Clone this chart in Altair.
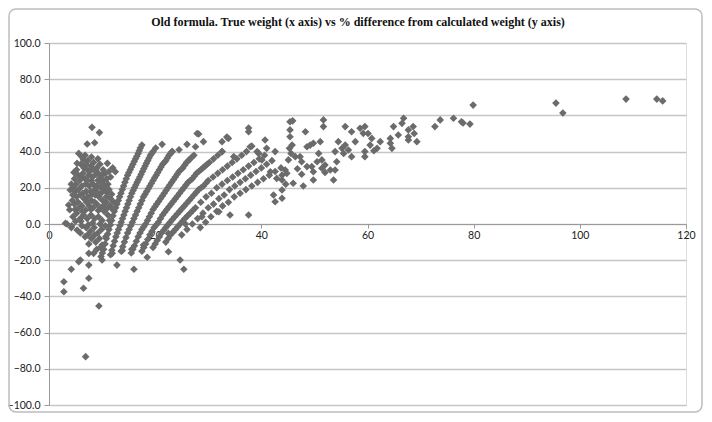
import altair as alt
import pandas as pd

title_text = "Old formula. True weight (x axis) vs % difference from calculated weight (y axis)"
x_ticks = [0, 20, 40, 60, 80, 100, 120]
y_ticks = [-100, -80, -60, -40, -20, 0, 20, 40, 60, 80, 100]

# left dense cluster (small fish)
cluster_top = [(8.1, 53.4), (9.5, 50.5), (7.2, 44.2), (8.6, 44.9), (11.0, 33.5), (5.6, 39), (6.2, 37),
               (6.8, 38), (7.3, 35), (6.0, 33), (6.6, 31), (7.2, 30), (7.9, 32), (8.4, 34), (9.0, 31),
               (9.6, 33), (10.2, 30), (10.6, 28), (12.5, 28.9), (11.6, 26), (5.2, 30), (5.5, 27),
               (4.8, 25), (6.1, 26), (6.8, 25), (7.5, 27), (8.2, 26), (8.9, 27.5), (9.6, 25),
               (10.3, 24), (11.1, 22), (9.2, 24), (8.0, 24), (5.3, 33.5), (4.7, 28.5), (6.5, 35.5),
               (12.0, 31), (11.3, 29), (9.2, 36), (8.0, 37), (5.8, 24), (6.4, 28), (7.0, 33),
               (7.7, 29), (8.5, 30), (9.3, 28), (10.0, 27), (10.9, 25)]
cluster_mid = [(4.2, 22), (4.0, 18.8), (4.6, 20), (5.1, 22), (5.6, 19), (6.2, 21), (6.9, 22), (7.6, 21),
               (8.3, 22), (9.0, 21), (9.7, 20), (10.4, 19), (11.0, 17), (4.5, 16), (5.2, 15), (5.9, 16),
               (6.6, 14), (7.3, 15), (8.0, 13), (8.7, 16), (9.4, 15), (10.1, 13), (10.8, 12), (11.5, 10),
               (3.7, 10.5), (3.9, 7.9), (4.8, 11), (5.5, 12), (6.2, 10), (6.9, 7.7), (7.6, 10), (8.3, 9),
               (9.0, 11), (9.7, 9), (10.4, 7), (11.1, 5), (7.8, 18), (8.6, 19), (7.0, 18), (9.8, 17),
               (10.8, 15), (11.6, 14), (12.0, 8), (4.4, 13), (5.0, 18), (4.9, 8), (5.6, 9), (6.3, 7),
               (7.1, 12), (7.9, 8), (8.6, 12), (9.3, 7.5), (10.2, 10), (10.9, 8.5), (6.4, 17),
               (7.2, 24), (8.1, 16.5), (8.9, 18), (9.9, 22.5), (10.6, 21), (11.3, 19), (11.8, 16.5),
               (12.2, 12)]
cluster_low = [(3.1, 0.4), (3.4, 0), (4.2, -2), (5.3, -3.3), (4.5, 4), (5.2, 6), (5.9, 3), (6.5, 5),
               (7.2, 3), (7.9, 5), (8.6, 3), (9.3, 4), (10.0, 2), (6.2, -1), (7.0, -2), (7.8, -4),
               (8.5, -2), (9.2, -5), (9.9, -3), (8.0, -8), (8.8, -10), (9.5, -8), (10.0, -11.6),
               (7.5, -11), (6.8, -7), (11.4, 2), (10.6, -1), (9.6, 0), (8.2, 0.5), (7.4, -0.5),
               (6.0, 1.5), (5.0, 1.5), (5.9, -5), (7.3, -6), (8.6, -6), (9.7, -13), (9.0, -14),
               (10.7, -7), (4.3, -1)]
negative_scatter = [(5.6, -20.8), (4.2, -25), (7.5, -22.7), (7.5, -30), (2.8, -31.9), (2.8, -37.4),
                    (6.5, -35.5), (9.4, -45.3), (6.9, -73.3), (10.0, -19.9), (8.4, -16.2), (11.9, -16.2),
                    (12.8, -22.7), (13.8, -14.7), (16.0, -25), (18.5, -18.4), (22.5, -15.3),
                    (24.7, -19.9), (25.4, -25), (7.5, -16.2), (5.9, -19.9), (15.6, -14), (17.8, -11.6),
                    (22.5, -5.2), (25.7, 0)]

# curved bands
arc_1 = [(9.8, -18), (10.3, -14), (10.8, -8), (11.3, -3), (11.8, 2), (12.3, 7), (12.8, 11), (13.3, 15),
         (13.8, 19), (14.3, 23), (14.8, 27), (15.3, 30), (15.8, 33), (16.3, 36), (16.8, 39), (17.2, 42),
         (10.05, -16), (10.55, -11), (11.05, -5.5), (11.55, -0.5), (12.05, 4.5), (12.55, 9),
         (13.05, 13), (13.55, 17), (14.05, 21), (14.55, 25), (15.05, 28.5), (15.55, 31.5),
         (16.05, 34.5), (16.55, 37.5), (17.0, 40.5)]
arc_2 = [(11.6, -17), (12.1, -12), (12.6, -7), (13.1, -3), (13.6, 1), (14.1, 5), (14.6, 9), (15.1, 13),
         (15.6, 17), (16.1, 20), (16.6, 23), (17.1, 26), (17.6, 29), (18.1, 32), (18.6, 35), (19.1, 38),
         (19.6, 40), (20.1, 42), (11.85, -14.5), (12.35, -9.5), (12.85, -5), (13.35, -1), (13.85, 3),
         (14.35, 7), (14.85, 11), (15.35, 15), (15.85, 18.5), (16.35, 21.5), (16.85, 24.5),
         (17.35, 27.5), (17.85, 30.5), (18.35, 33.5), (18.85, 36.5), (19.35, 39)]
arc_3 = [(13.6, -15), (14.2, -10), (14.8, -5), (15.4, -1), (16.0, 3), (16.6, 7), (17.2, 11), (17.8, 15),
         (18.4, 18), (19.0, 21), (19.6, 24), (20.2, 27), (20.8, 30), (21.4, 33), (22.0, 35), (22.6, 38),
         (23.2, 40), (13.9, -12.5), (14.5, -7.5), (15.1, -3), (15.7, 1), (16.3, 5), (16.9, 9),
         (17.5, 13), (18.1, 16.5), (18.7, 19.5), (19.3, 22.5), (19.9, 25.5), (20.5, 28.5),
         (21.1, 31.5), (21.7, 34), (22.3, 36.5), (22.9, 39)]
arc_4 = [(15.5, -16), (16.1, -12), (16.8, -7), (17.5, -3), (18.2, 0), (18.9, 4), (19.6, 8), (20.3, 11),
         (21.0, 14), (21.7, 17), (22.4, 20), (23.1, 23), (23.8, 26), (24.5, 29), (25.2, 31), (25.9, 34),
         (26.6, 36), (27.3, 38), (15.8, -14), (16.45, -9.5), (17.15, -5), (17.85, -1.5), (18.55, 2),
         (19.25, 6), (19.95, 9.5), (20.65, 12.5), (21.35, 15.5), (22.05, 18.5), (22.75, 21.5),
         (23.45, 24.5), (24.15, 27.5), (24.85, 30), (25.55, 32.5), (26.25, 35), (26.95, 37)]
arc_5 = [(17.5, -15), (18.2, -11), (19.0, -6), (19.8, -2), (20.6, 1), (21.4, 5), (22.2, 8), (23.0, 11),
         (23.8, 14), (24.6, 17), (25.4, 20), (26.2, 23), (27.0, 25), (27.8, 28), (28.6, 30), (29.4, 32),
         (30.2, 34), (31.0, 36), (31.8, 38), (32.6, 40), (17.85, -13), (18.6, -8.5), (19.4, -4),
         (20.2, -0.5), (21.0, 3), (21.8, 6.5), (22.6, 9.5), (23.4, 12.5), (24.2, 15.5), (25.0, 18.5),
         (25.8, 21.5), (26.6, 24), (27.4, 26.5), (28.2, 29), (29.0, 31), (29.8, 33)]
arc_6 = [(19.6, -13), (20.4, -9), (21.2, -5), (22.0, -2), (22.8, 1), (23.7, 4), (24.6, 7), (25.5, 10),
         (26.4, 13), (27.3, 16), (28.2, 19), (29.1, 21), (30.0, 24), (30.9, 26), (31.8, 28), (32.7, 30),
         (33.6, 32), (34.5, 34), (35.4, 36), (36.3, 38), (37.2, 40), (20.0, -11), (20.8, -7),
         (21.6, -3.5), (22.4, -0.5), (23.25, 2.5), (24.15, 5.5), (25.05, 8.5), (25.95, 11.5),
         (26.85, 14.5), (27.75, 17.5), (28.65, 20), (29.55, 22.5)]
arc_7 = [(22.0, -10), (22.9, -6), (23.8, -3), (24.7, 0), (25.6, 3), (26.6, 6), (27.6, 9), (28.6, 12),
         (29.6, 15), (30.6, 17), (31.6, 20), (32.6, 22), (33.6, 24), (34.6, 26), (35.6, 28), (36.6, 30),
         (37.6, 32), (38.6, 34), (39.6, 36), (40.6, 38), (22.45, -8), (23.35, -4.5), (24.25, -1.5),
         (25.15, 1.5), (26.1, 4.5), (27.1, 7.5)]
arc_8 = [(25.0, -6), (26.0, -3), (27.0, 0), (28.0, 3), (29.0, 6), (30.0, 9), (31.0, 11), (32.0, 14),
         (33.0, 16), (34.0, 19), (35.0, 21), (36.0, 23), (37.0, 25), (38.0, 27), (39.0, 29), (40.0, 31),
         (41.0, 33), (42.0, 35)]
arc_9 = [(28.5, -2), (29.5, 1), (30.5, 4), (31.6, 7), (32.7, 10), (33.8, 12), (34.9, 15), (36.0, 17),
         (37.1, 19), (38.2, 21), (39.3, 23), (40.4, 25), (41.5, 27), (42.6, 29), (43.7, 31)]

# scattered points above and between the bands
upper_scatter = [(17.5, 43.6), (21.3, 44), (23.2, 40), (27.9, 50), (29.1, 45.5), (27.6, 42.7), (33.5, 48),
                 (32.6, 45.5), (37.6, 53), (38.2, 43), (40.7, 46.4), (41.0, 41.8), (42.6, 40), (39.2, 40),
                 (41.7, 28.9), (42.9, 25.2), (42.3, 16), (42.6, 12.3), (40.1, 35.4), (39.5, 39),
                 (37.9, 42.7), (34.8, 37.2), (32.6, 40), (33.8, 47.3), (28.2, 49.7), (37.6, 51),
                 (37.6, 5), (28.8, 4), (32.0, 6.8), (34.1, 5), (24.5, 41), (26.0, 44)]
mid_scatter = [(45.4, 56.5), (45.9, 57), (45.4, 52), (45.4, 48.2), (45.8, 43.6), (45.3, 41.8), (45.6, 39),
               (45.1, 35.4), (46.4, 37.2), (47.3, 37.2), (47.6, 34.4), (44.5, 29.8), (43.9, 27),
               (44.8, 28), (43.9, 24.3), (44.6, 22), (43.9, 18.8), (43.9, 14.2), (46.0, 22.5), (47.9, 21),
               (49.8, 24.3), (49.8, 28.9), (49.5, 31.7), (50.5, 34.4), (50.8, 39), (48.6, 42.7),
               (49.2, 43.6), (49.8, 44.6), (51.1, 45.5), (51.7, 57.5), (51.7, 53.8), (48.3, 51),
               (51.4, 35.4), (52.0, 32.6), (51.4, 30.8), (52.0, 28.5), (53.0, 29.8), (53.9, 29.8),
               (54.2, 34.4), (53.9, 40), (54.5, 45.5), (55.2, 41.8), (55.5, 39), (55.8, 43.6),
               (56.4, 40.9), (55.8, 53.8), (57.0, 51), (57.7, 45.5), (57.0, 37.2), (53.6, 24.3),
               (48.6, 31.7), (47.6, 27.5), (46.8, 30.5)]
right_scatter = [(58.6, 52.9), (59.5, 53.8), (59.2, 50.1), (60.1, 50), (60.8, 47.3), (60.5, 43.6),
                 (62.4, 45.5), (61.8, 41.8), (59.5, 40), (59.5, 37.2), (61.2, 40.5), (64.3, 47.3),
                 (64.3, 44.6), (64.6, 41.8), (64.9, 53.8), (65.8, 49.2), (66.5, 55.6), (66.8, 58.4),
                 (67.7, 52), (67.7, 48.2), (68.6, 53.8), (68.8, 50), (69.3, 45.5), (67.7, 46.4),
                 (72.7, 53.8), (73.7, 57.5), (76.2, 58.4), (77.7, 56.5), (78.0, 55.8), (79.3, 55.2),
                 (79.9, 65.7), (95.5, 66.8), (96.8, 61.3), (108.7, 69), (114.5, 69), (115.6, 68)]

groups = [cluster_top, cluster_mid, cluster_low, negative_scatter, arc_1, arc_2, arc_3, arc_4, arc_5,
          arc_6, arc_7, arc_8, arc_9, upper_scatter, mid_scatter, right_scatter]
rows = [p for g in groups for p in g]
df = pd.DataFrame(rows, columns=["weight", "diff"])

W, H = 637, 362
label_font = "Lato"
title_font = "Liberation Serif"

points = alt.Chart(df).mark_point(
    shape="diamond", filled=True, size=58, color="#6b6b6b", opacity=1
).encode(
    x=alt.X("weight:Q",
            scale=alt.Scale(domain=[0, 120], nice=False, zero=False),
            axis=alt.Axis(values=x_ticks, title=None, grid=False, offset=-181,
                          domainColor="#9a9a9a", tickColor="#9a9a9a", tickSize=4,
                          labelFont=label_font, labelFontSize=10.5, labelColor="#222222",
                          labelPadding=2, labelFlush=False)),
    y=alt.Y("diff:Q",
            scale=alt.Scale(domain=[-100, 100], nice=False),
            axis=alt.Axis(values=y_ticks, format=".1f", title=None, grid=True,
                          gridColor="#c6c6c6", gridWidth=1.5,
                          domainColor="#9a9a9a", tickColor="#9a9a9a", tickSize=5,
                          labelFont=label_font, labelFontSize=10.5, labelColor="#222222",
                          labelPadding=4)),
)

border = alt.Chart(pd.DataFrame({"a": [0]})).mark_rect(
    fillOpacity=0, stroke="#bdbdbd", strokeWidth=1.5, cornerRadius=7
).encode(
    x=alt.value(-40), x2=alt.value(653), y=alt.value(-34), y2=alt.value(369)
)

title = alt.Chart(pd.DataFrame({"t": [title_text]})).mark_text(
    font=title_font, fontSize=12, fontWeight="bold", color="#111111",
    align="center", baseline="middle"
).encode(
    text="t:N", x=alt.value(309), y=alt.value(-21)
)

chart = alt.layer(border, points, title).properties(
    width=W, height=H,
    padding={"left": 41, "top": 35, "right": 18, "bottom": 9},
    autosize=alt.AutoSizeParams(type="none"),
).configure_view(stroke=None).configure(background="white")

chart.save("out.html", embed_options={"renderer": "svg", "actions": False})
